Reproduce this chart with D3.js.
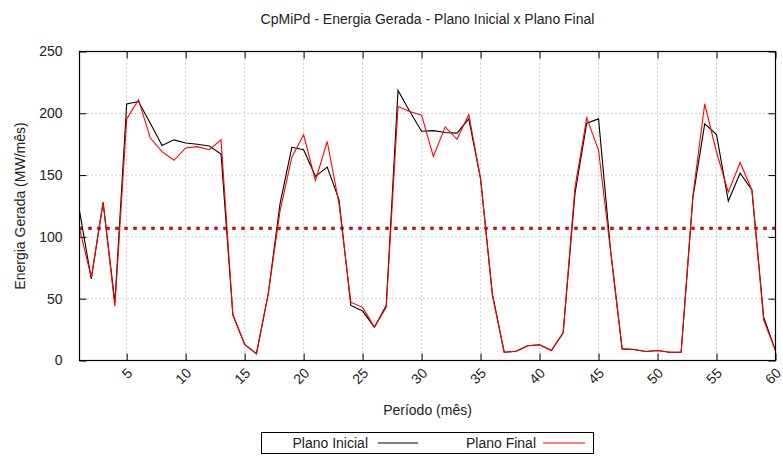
<!DOCTYPE html>
<html><head><meta charset="utf-8">
<script src="https://cdn.jsdelivr.net/npm/d3@7"></script>
<style>
body{margin:0;background:#fff;}
text{font-family:"Liberation Sans",Arial,Helvetica,sans-serif;fill:#222;}
</style></head>
<body><svg id="c" width="783" height="476"></svg>
<script>
const periodos = d3.range(1, 61);
const planoInicial = [121,66,128,47,207.5,209.5,192,174,178.5,176,175,173.5,167,37,13,5.5,54,127,172.5,170.5,149,156.5,130,44.5,40,27,44.5,218.5,201.5,185.5,186,184.5,184,195.5,147,54,6.7,7.5,12,12.7,8,22.5,135,192,195.5,91,9.4,8.9,7.3,8.1,6.7,6.7,132,191.5,182.8,129,151.5,138,35,8];
const planoFinal = [107,67,128,44,195.5,211,180,169,162,172,173,170.5,178.5,37,13,5.5,54,121,164.5,182.6,145.6,177.2,126.8,47.2,43,27,43,205.5,201.5,198.5,165,189,179,199,147,52.6,6.7,7.5,12,12.7,8,22.5,140,196.3,170,90,9.4,8.9,7.3,8.1,6.7,6.7,133.5,207.7,168.5,136.2,160.2,138,32.4,8];
const medias = [107, 107];
const xTicks = [5,10,15,20,25,30,35,40,45,50,55,60];
const yTicks = [0,50,100,150,200,250];
const titulo = "CpMiPd - Energia Gerada - Plano Inicial x Plano Final";
const rotuloX = "Período (mês)";
const rotuloY = "Energia Gerada (MW/mês)";
const nomes = ["Plano Inicial", "Plano Final"];
const cores = ["#000000", "#ff0000"];

const svg = d3.select("#c");
const L = 79.5, R = 775.5, T = 51.5, B = 360.5;
const x = d3.scaleLinear().domain([1, 60]).range([L, R]);
const y = d3.scaleLinear().domain([0, 250]).range([B, T]);

// grid
const g = svg.append("g");
g.selectAll(".gx").data(xTicks.filter(t => t < 60)).enter().append("line")
  .attr("x1", d => x(d)).attr("x2", d => x(d)).attr("y1", T).attr("y2", B)
  .attr("stroke", "#a0a0a0").attr("stroke-width", 1).attr("stroke-dasharray", "1,3");
g.selectAll(".gy").data(yTicks.filter(t => t > 0 && t < 250)).enter().append("line")
  .attr("x1", L).attr("x2", R).attr("y1", d => y(d)).attr("y2", d => y(d))
  .attr("stroke", "#a0a0a0").attr("stroke-width", 1).attr("stroke-dasharray", "1,3");

// axes (inward ticks, mirrored)
const tl = 7;
svg.append("g").attr("transform", `translate(0,${B})`)
  .call(d3.axisBottom(x).tickValues(xTicks).tickSizeInner(-tl).tickSizeOuter(0).tickFormat(""))
  .call(s => s.select(".domain").remove());
svg.append("g").attr("transform", `translate(0,${T})`)
  .call(d3.axisTop(x).tickValues(xTicks).tickSizeInner(-tl).tickSizeOuter(0).tickFormat(""))
  .call(s => s.select(".domain").remove());
svg.append("g").attr("transform", `translate(${L},0)`)
  .call(d3.axisLeft(y).tickValues(yTicks).tickSizeInner(-tl).tickSizeOuter(0).tickPadding(10 + tl).tickFormat(d3.format("d")))
  .call(s => s.select(".domain").remove())
  .call(s => s.selectAll("text").attr("font-size", 14).attr("fill", "#222").style("font-family", "Liberation Sans, Arial, sans-serif"));
svg.append("g").attr("transform", `translate(${R},0)`)
  .call(d3.axisRight(y).tickValues(yTicks).tickSizeInner(-tl).tickSizeOuter(0).tickFormat(""))
  .call(s => s.select(".domain").remove());
svg.selectAll(".tick line").attr("stroke", "#000");

// x tick labels rotated
svg.append("g").selectAll("text").data(xTicks).enter().append("text")
  .attr("transform", d => `translate(${x(d) + 3},${B + 10}) rotate(-45)`)
  .attr("text-anchor", "end").attr("dominant-baseline", "central")
  .attr("font-size", 14).text(d => d);

// mean lines
medias.forEach((m, i) => {
  svg.append("line").attr("x1", L).attr("x2", R).attr("y1", y(m)).attr("y2", y(m))
    .attr("stroke", i === 0 ? "#000" : "#ff0000").attr("stroke-width", i === 0 ? 3 : 2.6)
    .attr("stroke-dasharray", "3,6");
});

// series
const line = d3.line().x((d, i) => x(periodos[i])).y(d => y(d));
[planoInicial, planoFinal].forEach((s, i) => {
  svg.append("path").datum(s).attr("d", line).attr("fill", "none")
    .attr("stroke", cores[i]).attr("stroke-width", 1.1).attr("stroke-linejoin", "miter");
});

// frame
svg.append("rect").attr("x", L).attr("y", T).attr("width", R - L).attr("height", B - T)
  .attr("fill", "none").attr("stroke", "#000").attr("stroke-width", 1.2);

// titles
svg.append("text").attr("x", (L + R) / 2).attr("y", 24).attr("text-anchor", "middle")
  .attr("font-size", 14).text(titulo);
svg.append("text").attr("x", (L + R) / 2).attr("y", 415).attr("text-anchor", "middle")
  .attr("font-size", 14).text(rotuloX);
svg.append("text").attr("transform", `translate(25,${(T + B) / 2}) rotate(-90)`).attr("text-anchor", "middle")
  .attr("font-size", 14).text(rotuloY);

// legend
const lg = svg.append("g");
lg.append("rect").attr("x", 261.5).attr("y", 432.5).attr("width", 332).attr("height", 21)
  .attr("fill", "#fff").attr("stroke", "#000").attr("stroke-width", 1);
const legX = [368, 536];
const lineX = [[378, 418], [543, 585]];
nomes.forEach((n, i) => {
  lg.append("text").attr("x", legX[i]).attr("y", 448).attr("text-anchor", "end")
    .attr("font-size", 14).text(n);
  lg.append("line").attr("x1", lineX[i][0]).attr("x2", lineX[i][1]).attr("y1", 443).attr("y2", 443)
    .attr("stroke", cores[i]).attr("stroke-width", 1.1);
});
</script></body></html>
